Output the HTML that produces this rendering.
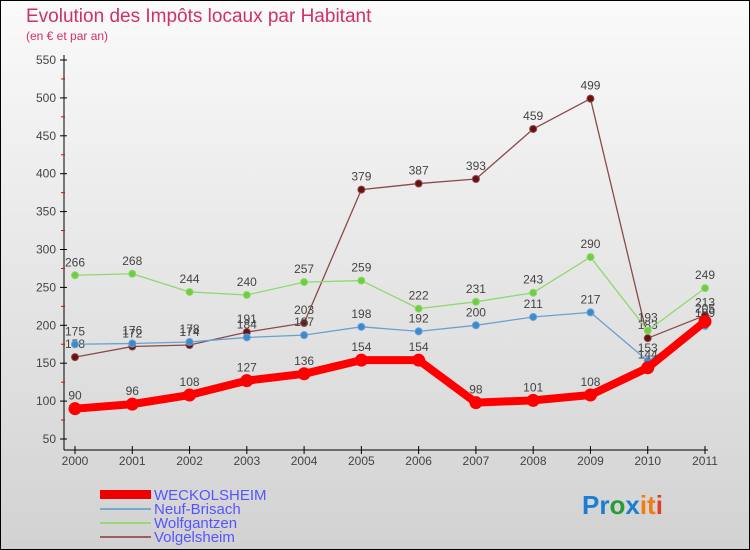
<!DOCTYPE html>
<html><head><meta charset="utf-8"><style>
body{margin:0;width:750px;height:550px;overflow:hidden;font-family:"Liberation Sans",sans-serif}
#wrap{position:relative;width:748px;height:548px;border:1px solid #000;background:linear-gradient(#fafafa,#d2d2d2)}
</style></head><body>
<div id="wrap">
<svg id="chart" width="750" height="550" style="position:absolute;left:-1px;top:-1px">
<text x="26" y="22" font-size="19" fill="#d0306a">Evolution des Impôts locaux par Habitant</text>
<text x="26" y="40" font-size="12" fill="#d0306a">(en € et par an)</text>
<g id="axes"></g><g id="series"></g>
<g>
<rect x="100" y="490" width="51" height="9" fill="#e00"/>
<text x="154" y="500" font-size="15" fill="#55f">WECKOLSHEIM</text>
<rect x="100" y="508" width="51" height="2" fill="#7aa7cc"/>
<text x="154" y="514" font-size="15" fill="#55f">Neuf-Brisach</text>
<rect x="100" y="522" width="51" height="2" fill="#9bd67a"/>
<text x="154" y="528" font-size="15" fill="#55f">Wolfgantzen</text>
<rect x="100" y="536" width="51" height="2" fill="#9a6060"/>
<text x="154" y="542" font-size="15" fill="#55f">Volgelsheim</text>
</g>
<text x="582" y="514" font-size="26" font-weight="bold"><tspan fill="#1a7fd0">Pr</tspan><tspan fill="#2a9a3a">o</tspan><tspan fill="#1a7fd0">x</tspan><tspan fill="#f07d10">it</tspan><tspan fill="#e04020">i</tspan></text>
</svg>
</div>
<script>
const years=["2000","2001","2002","2003","2004","2005","2006","2007","2008","2009","2010","2011"];
const yTicks=[50,100,150,200,250,300,350,400,450,500,550];
const weckolsheim=[90,96,108,127,136,154,154,98,101,108,144,205];
const neufBrisach=[175,176,178,184,187,198,192,200,211,217,153,199];
const wolfgantzen=[266,268,244,240,257,259,222,231,243,290,193,249];
const volgelsheim=[158,172,174,191,203,379,387,393,459,499,183,213];
const NS="http://www.w3.org/2000/svg";
const X=i=>75+i*(630/11);
const Y=v=>439-(v-50)*(379/500);
function mk(t,a,p){const e=document.createElementNS(NS,t);for(const k in a)e.setAttribute(k,a[k]);p.appendChild(e);return e;}
const ax=document.getElementById('axes');
let l=mk('line',{x1:64,y1:55,x2:64,y2:450,stroke:'#000'},ax);


l=mk('line',{x1:64,y1:450,x2:708,y2:450,stroke:'#000'},ax);


yTicks.forEach((v,i)=>{
 mk('line',{x1:60,y1:Y(v),x2:67,y2:Y(v),stroke:'#000'},ax);
 if(i<yTicks.length-1)mk('line',{x1:61,y1:Y(v+25),x2:65,y2:Y(v+25),stroke:'#e00'},ax);
 const t=mk('text',{x:56,y:Y(v)+4,'text-anchor':'end','font-size':12,fill:'#444'},ax);t.textContent=v;
 
 
});
years.forEach((y,i)=>{
 mk('line',{x1:X(i),y1:446,x2:X(i),y2:454,stroke:'#000'},ax);
 const t=mk('text',{x:X(i),y:465,'text-anchor':'middle','font-size':12,fill:'#444'},ax);t.textContent=y;
 
 
});
const sg=document.getElementById('series');
function draw(data,name,color,dot,w,r){
 const g=mk('g',{},sg);
 
 
 const p=mk('polyline',{points:data.map((v,i)=>X(i)+','+Y(v)).join(' '),fill:'none',stroke:color,'stroke-width':w,'stroke-linejoin':'round'},g);
 
 
 data.forEach((v,i)=>{
  const c=mk('circle',{cx:X(i),cy:Y(v),r:r,fill:dot,stroke:color,'stroke-width':1},g);
  
  
  const t=mk('text',{x:X(i),y:Y(v)-9,'text-anchor':'middle','font-size':12,fill:'#444'},g);t.textContent=v;
  
  
 });
}
draw(volgelsheim,'volgelsheim','#8a4a4a','#6a1010',1.3,3.5);
draw(wolfgantzen,'wolfgantzen','#90d870','#70cc40',1.3,3.5);
draw(neufBrisach,'neuf-brisach','#6aa0d0','#3a8ad0',1.3,3.5);
draw(weckolsheim,'weckolsheim','#f00','#f00',8,6);
</script>
</body></html>
